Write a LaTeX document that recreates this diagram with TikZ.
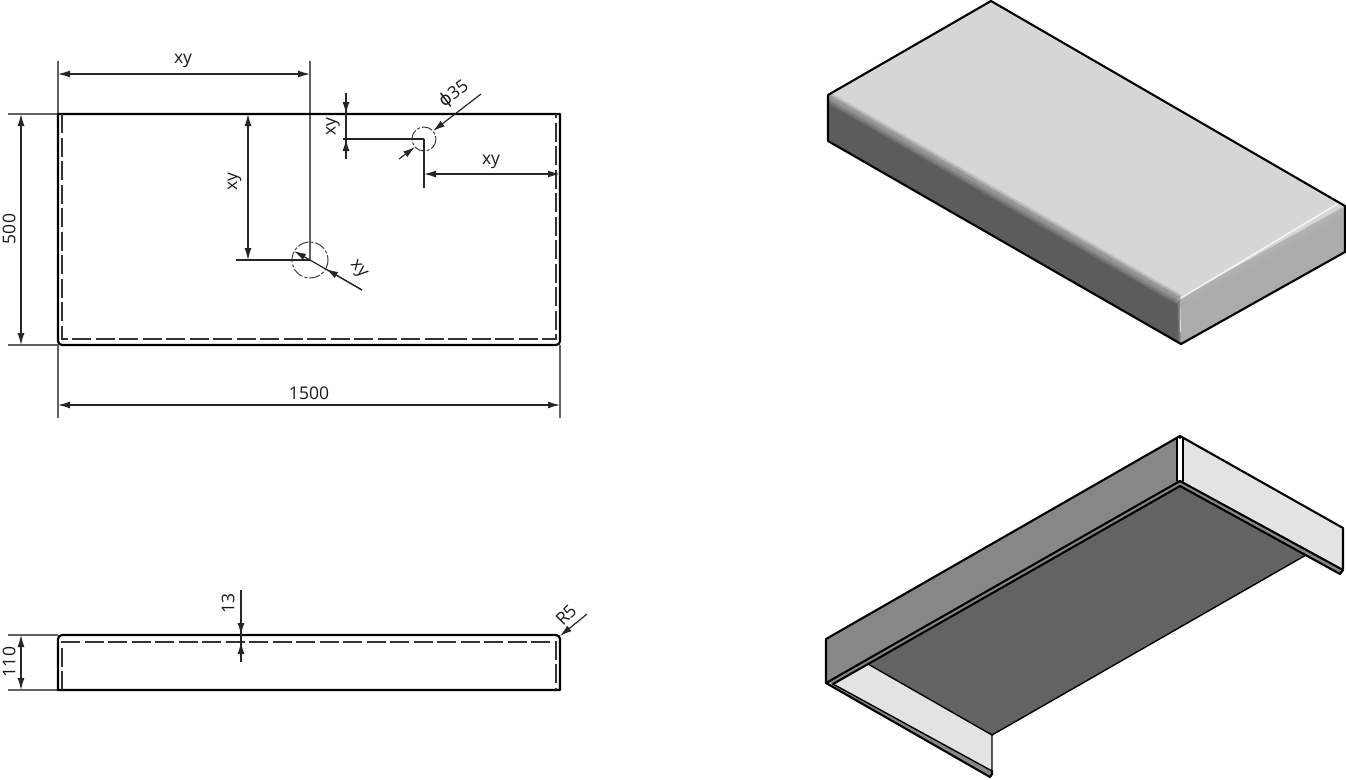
\documentclass[tikz,border=0pt]{standalone}
\usepackage{fontspec}
\setmainfont{Open Sans}
\newfontfamily\symfont{DejaVu Sans}
\usetikzlibrary{arrows.meta}
\definecolor{dimgray}{gray}{0.15}
\definecolor{extgray}{gray}{0.38}
\definecolor{topface}{gray}{0.84}
\definecolor{leftface}{gray}{0.36}
\definecolor{rightface}{gray}{0.67}
\definecolor{wallface}{gray}{0.53}
\definecolor{floorface}{gray}{0.39}
\definecolor{flapface}{gray}{0.89}
\tikzset{
  x=1pt,y=-1pt,
  every node/.style={font=\fontsize{17.5}{20}\selectfont,inner sep=0pt,text=black!90},
  outline/.style={line width=2.2pt,black,line join=round},
  hidden/.style={line width=1.3pt,black!80,dash pattern=on 19pt off 4.5pt},
  holeline/.style={line width=1pt,black!75,dash pattern=on 11pt off 2pt on 3pt off 2pt},
  extline/.style={line width=1.3pt,extgray},
  dimline/.style={line width=1.2pt,dimgray},
  dimboth/.style={dimline,{Latex[length=12pt,width=7pt]}-{Latex[length=12pt,width=7pt]}},
  dimto/.style={dimline,-{Latex[length=12pt,width=7pt]}},
  iso/.style={line width=2.1pt,black,line join=round,line cap=round},
  isothin/.style={line width=1.4pt,black,line join=round,line cap=round},
}
\begin{document}
\begin{tikzpicture}
\useasboundingbox (0,0) rectangle (1346,779);

% ---- plan view
\coordinate (PTL) at (58,114);\coordinate (PTR) at (560,114);
\coordinate (PBL) at (58,345);\coordinate (PBR) at (560,345);
\coordinate (H1) at (310,260);\coordinate (H2) at (424,139);
\draw[extline] (58,61) -- (PTL);
\draw[extline] (PBL) -- (58,418);
\draw[extline] (PBR) -- (560,418);
\draw[extline] (8,114) -- (PTL);
\draw[extline] (8,345) -- (PBL);
\draw[extline] (310,61) -- (H1);
\draw[outline] (PTL) -- (PTR) -- (560,341) arc[start angle=0,end angle=90,radius=4] -- (62,345) arc[start angle=90,end angle=180,radius=4] -- cycle;
\draw[hidden] (62,114) -- (62,339) -- (556,339) -- (556,114);
% holes
\draw[holeline] (H1) circle[radius=18];
\draw[holeline] (H2) circle[radius=12];
% dimensions
\coordinate (D1a) at (58,74);\coordinate (D1b) at (310,74);
\draw[dimboth] (D1a) -- (D1b);
\node (Lxy1) at (183,61) {xy};
\coordinate (D2a) at (21,114);\coordinate (D2b) at (21,345);
\draw[dimboth] (D2a) -- (D2b);
\node[rotate=90] (L500) at (9,229) {500};
\coordinate (D3a) at (58,405);\coordinate (D3b) at (560,405);
\draw[dimboth] (D3a) -- (D3b);
\node (L1500) at (309,393) {1500};
\coordinate (D4a) at (248,114);\coordinate (D4b) at (248,260);
\draw[dimboth] (D4a) -- (D4b);
\node[rotate=90] (Lxy2) at (234.5,182) {xy};
\draw[dimline] (236,260) -- (H1);
% big hole diameter
\coordinate (E1) at (362,290);
\coordinate (T1) at (326,269);\coordinate (T2) at (294,251);
\draw[dimline] (E1) -- (H1);
\draw[dimto] (E1) -- (T1);
\draw[dimto] (H1) -- (T2);
\node[rotate=-50] (Lxy3) at (358,270) {xy};
% small hole vertical
\coordinate (V1) at (346,93);\coordinate (V2) at (346,159);
\draw[dimline] (V1) -- (V2);
\draw[dimto] (V1) -- (346,114);
\draw[dimto] (V2) -- (346,139);
\node[rotate=90] (Lxy4) at (333,127) {xy};
\draw[dimline] (343,139) -- (H2);
\draw[dimline] (H2) -- (424,188);
% small hole horizontal
\coordinate (W1) at (424,174);\coordinate (W2) at (560,174);
\draw[dimboth] (W1) -- (W2);
\node (Lxy5) at (491,162) {xy};
% phi 35
\coordinate (Q1) at (481,94);\coordinate (Q2) at (433,131);
\coordinate (Q3) at (399,159);\coordinate (Q4) at (415,147);
\draw[dimto] (Q1) -- (Q2);
\draw[dimto] (Q3) -- (Q4);
\node[rotate=37] (Lphi) at (454,94) {{\symfont ϕ}35};

% ---- side view
\coordinate (SBL) at (58,690);\coordinate (SBR) at (560,690);
\draw[extline] (8,635) -- (58,635);
\draw[extline] (8,690) -- (SBL);
\draw[outline] (SBL) -- (58,639) arc[start angle=180,end angle=270,radius=4] -- (556,635) arc[start angle=270,end angle=360,radius=4] -- (SBR) -- cycle;
\draw[hidden] (62,690) -- (62,642) -- (556,642) -- (556,690);
\coordinate (A1) at (21,635);\coordinate (A2) at (21,690);
\draw[dimboth] (A1) -- (A2);
\node[rotate=90] (L110) at (9,662) {110};
\coordinate (B1) at (241,590);\coordinate (B2) at (241,662);
\draw[dimline] (B1) -- (B2);
\draw[dimto] (B1) -- (241,635);
\draw[dimto] (B2) -- (241,642);
\node[rotate=90] (L13) at (228,603) {13};
\coordinate (C1) at (587,614);\coordinate (C2) at (560,636);
\draw[dimto] (C1) -- (C2);
\node[rotate=45] (LR5) at (566,615) {R5};

% ---- upper isometric
\coordinate (a) at (991,1);\coordinate (b) at (1345,206);
\coordinate (c) at (1180,298);\coordinate (d) at (828,95);
\coordinate (e) at (1345,252);\coordinate (f) at (1181,344);\coordinate (g) at (828,141);
\fill[topface] (a) -- (b) -- (c) -- (d) -- cycle;
\begin{scope}
\clip (d) -- (c) -- (f) -- (g) -- cycle;
\fill[leftface] (d) -- (c) -- (f) -- (g) -- cycle;
\foreach \w in {1,2,...,16}{
  \draw[white,opacity=0.035,line width=\w pt] (d) -- (c);
}
\foreach \w in {1,2,...,6}{
  \draw[white,opacity=0.06,line width=\w pt] (c) -- (f);
}
\end{scope}
\begin{scope}
\clip (c) -- (b) -- (e) -- (f) -- cycle;
\fill[rightface] (c) -- (b) -- (e) -- (f) -- cycle;
\foreach \w in {2,4,...,16}{
  \draw[white,opacity=0.02,line width=\w pt] (c) -- (b);
}
\end{scope}
\begin{scope}
\clip (a) -- (b) -- (c) -- (d) -- cycle;
\foreach \w in {1,2,...,8}{
  \draw[black,opacity=0.03,line width=\w pt] (d) -- (c);
}
\end{scope}
\draw[white,opacity=0.75,line width=1.6pt,line cap=round] ([xshift=1pt]c) -- ([xshift=-6pt,yshift=3pt]b);
\draw[iso] (d) -- (a) -- (b) -- (e) -- (f) -- (g) -- cycle;

% ---- lower isometric
\coordinate (p) at (1180,436);\coordinate (q) at (1343,528);\coordinate (r) at (1343,570);
\coordinate (r2) at (1340,574);
\coordinate (s) at (1180,481);\coordinate (t) at (826,639);\coordinate (u) at (826,683);
\coordinate (v) at (992,735);\coordinate (w) at (990,777);\coordinate (x) at (868,664);
\coordinate (y) at (1306,555);\coordinate (s2) at (1180,486);\coordinate (u2) at (833,684);
\coordinate (w2) at (992,771);
\fill[wallface] (t) -- (p) -- (s) -- (u) -- cycle;
\fill[wallface] (u) -- (s) -- (s2) -- (u2) -- cycle;
\fill[floorface] (s2) -- (y) -- (v) -- (x) -- cycle;
\fill[flapface] (u2) -- (x) -- (v) -- (w2) -- cycle;
\fill[flapface] (1183,438) -- (q) -- (r) -- (1183,481) -- cycle;
\fill[wallface] (s) -- (r) -- (r2) -- (s2) -- cycle;
\fill[wallface] (u) -- (w) -- (w2) -- (u2) -- cycle;
\fill[white] (1177,438) rectangle (1183,480);
% outlines
\draw[iso] (u) -- (t) -- (p) -- (q) -- (r) -- (r2);
\draw[isothin] (1177,438) -- (1177,481);
\draw[isothin] (1183,438) -- (1183,481);
\draw[iso] (p) -- (1180,438);
\draw[iso] (u) -- (s) -- (r);
\draw[iso] (u) -- (w) -- (992,774) -- (w2);
\draw[isothin] (u2) -- (w2) -- (v);
\draw[iso] (u2) -- (s2) -- (r2);
\draw[isothin] (x) -- (v) -- (y);
\end{tikzpicture}
\end{document}
